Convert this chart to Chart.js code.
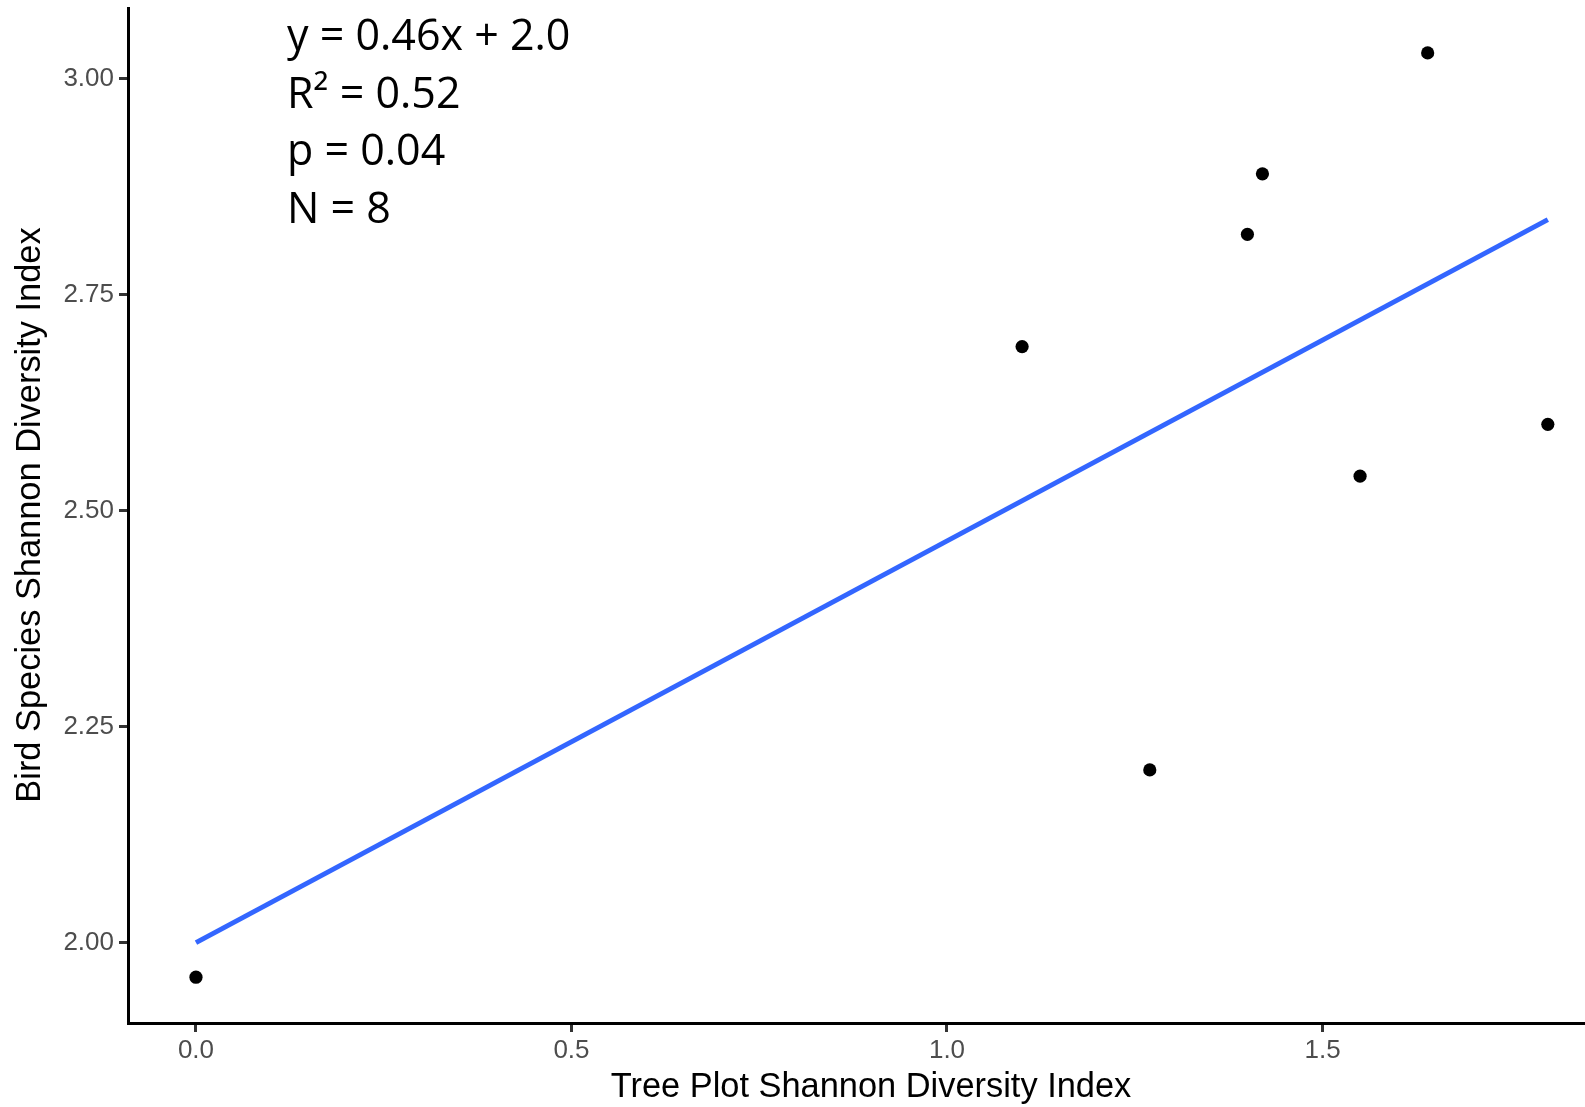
<!DOCTYPE html>
<html>
<head>
<meta charset="utf-8">
<script src="https://cdn.jsdelivr.net/npm/chart.js@4/dist/chart.umd.min.js"></script>
<style>
  html, body { margin: 0; padding: 0; background: #fff; }
  canvas { display: block; }
</style>
</head>
<body>
<canvas id="plot" width="1585" height="1107"></canvas>
<script>
// tree plot diversity (x) vs bird species diversity (y), one point per site
var treeDiv = [0.00, 1.10, 1.27, 1.40, 1.42, 1.55, 1.64, 1.80];
var birdDiv = [1.96, 2.69, 2.20, 2.82, 2.89, 2.54, 3.03, 2.60];

// fitted lm line, read at both ends of the data range
var fitX = [0.00, 1.80];
var fitY = [2.00, 2.837];

var xTicks = [0, 0.5, 1.0, 1.5];
var xTickLabels = ["0.0", "0.5", "1.0", "1.5"];
var yTicks = [2.00, 2.25, 2.50, 2.75, 3.00];
var yTickLabels = ["2.00", "2.25", "2.50", "2.75", "3.00"];

var xTitle = "Tree Plot Shannon Diversity Index";
var yTitle = "Bird Species Shannon Diversity Index";
var statLines = ["y = 0.46x + 2.0", "R\u00B2 = 0.52", "p = 0.04", "N = 8"];

function toXY(xs, ys) {
  return xs.map(function(x, i) { return { x: x, y: ys[i] }; });
}

var sansFont = "'Liberation Sans', Arial, sans-serif";

// axis titles + stats text in the top left corner
var extraText = {
  id: "extraText",
  afterDraw: function(chart) {
    var ctx = chart.ctx;
    ctx.save();
    ctx.fillStyle = "#000";
    ctx.textBaseline = "alphabetic";

    ctx.font = "34.4px " + sansFont;
    ctx.textAlign = "center";
    ctx.fillText(xTitle, 871, 1097);

    ctx.save();
    ctx.translate(40, 515);
    ctx.rotate(-Math.PI / 2);
    ctx.fillText(yTitle, 0, 0);
    ctx.restore();

    ctx.font = "43px 'Open Sans'";
    ctx.textAlign = "left";
    for (var i = 0; i < statLines.length; i++) {
      ctx.fillText(statLines[i], 287, 50 + i * 57.5);
    }
    ctx.restore();
  }
};

var tickFont = { family: sansFont, size: 26 };

var ctx = document.getElementById("plot").getContext("2d");
var chart = new Chart(ctx, {
  type: "scatter",
  data: {
    datasets: [
      {
        label: "sites",
        data: toXY(treeDiv, birdDiv),
        backgroundColor: "#000",
        borderColor: "#000",
        pointRadius: 6.6,
        pointHoverRadius: 6.6,
        borderWidth: 0
      },
      {
        label: "fit",
        data: toXY(fitX, fitY),
        showLine: true,
        borderColor: "#3366FF",
        borderWidth: 5,
        pointRadius: 0,
        fill: false
      }
    ]
  },
  options: {
    responsive: false,
    animation: false,
    devicePixelRatio: 1,
    layout: {
      autoPadding: false,
      padding: { top: 8, right: 0, left: 0, bottom: 0 }
    },
    plugins: {
      legend: { display: false },
      tooltip: { enabled: false }
    },
    scales: {
      x: {
        type: "linear",
        min: -0.0905,
        max: 1.8495,
        afterBuildTicks: function(scale) {
          scale.ticks = xTicks.map(function(v) { return { value: v }; });
        },
        afterFit: function(scale) {
          scale.height = 84;
          scale.paddingLeft = 0;
          scale.paddingRight = 0;
        },
        grid: {
          display: true,
          drawOnChartArea: false,
          drawTicks: true,
          tickLength: 9,
          tickWidth: 3,
          tickColor: "#333333"
        },
        border: { display: true, color: "#000", width: 3 },
        ticks: {
          color: "#4D4D4D",
          font: tickFont,
          padding: 3,
          maxRotation: 0,
          callback: function(v, i) { return xTickLabels[i]; }
        }
      },
      y: {
        type: "linear",
        min: 1.907,
        max: 3.082,
        afterBuildTicks: function(scale) {
          scale.ticks = yTicks.map(function(v) { return { value: v }; });
        },
        afterFit: function(scale) {
          scale.width = 128;
          scale.paddingTop = 0;
          scale.paddingBottom = 0;
        },
        grid: {
          display: true,
          drawOnChartArea: false,
          drawTicks: true,
          tickLength: 9,
          tickWidth: 3,
          tickColor: "#333333"
        },
        border: { display: true, color: "#000", width: 3 },
        ticks: {
          color: "#4D4D4D",
          font: tickFont,
          padding: 5,
          callback: function(v, i) { return yTickLabels[i]; }
        }
      }
    }
  },
  plugins: [extraText]
});
</script>
</body>
</html>
